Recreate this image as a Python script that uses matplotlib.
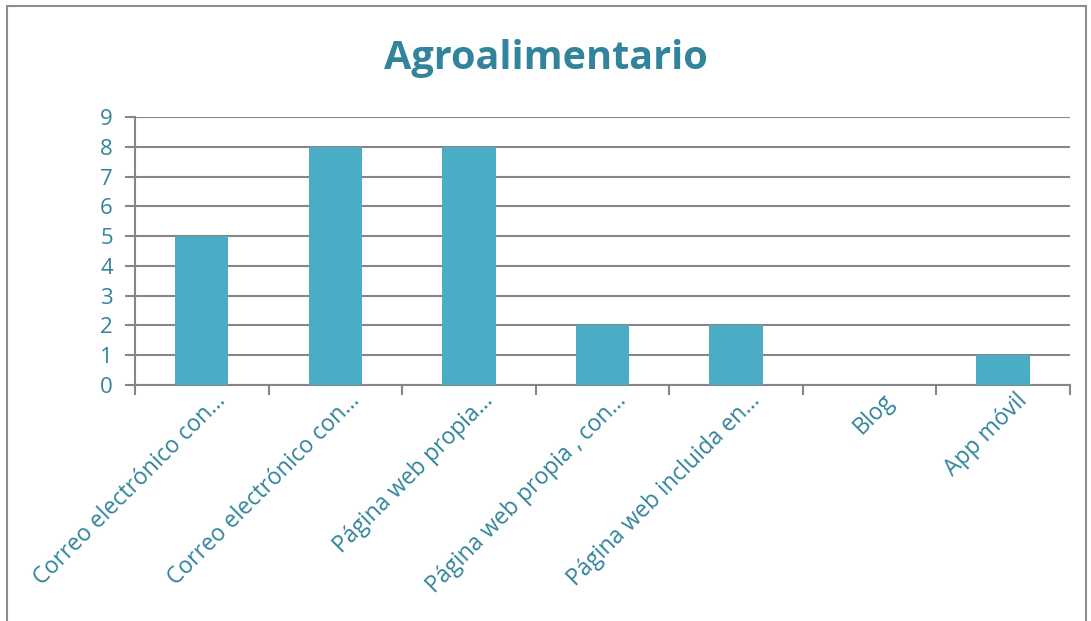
import matplotlib as mpl
mpl.use('Agg')
import matplotlib.pyplot as plt
from matplotlib.patches import Rectangle
from matplotlib.transforms import ScaledTranslation

categories = ["Correo electrónico con…", "Correo electrónico con…", "Página web propia…",
              "Página web propia , con…", "Página web incluida en…", "Blog", "App móvil"]
values = [5, 8, 8, 2, 2, 0, 1]
yticks = list(range(0, 10))

text_col = '#31849B'
bar_col = '#4BACC6'
grid_col = '#868686'

plt.rcParams['font.family'] = ['Open Sans', 'DejaVu Sans']

W, H = 1091, 621
fig = plt.figure(figsize=(W / 100, H / 100), dpi=100)
ax = fig.add_axes([135 / W, 1 - 385 / H, (1070 - 135) / W, (385 - 117) / H])

x = list(range(len(categories)))
ax.bar(x, values, width=0.4, color=bar_col, zorder=3)

ax.set_xlim(-0.5, len(categories) - 0.5)
ax.set_ylim(0, 9)
ax.set_yticks(yticks)
ax.set_yticklabels([str(v) for v in yticks])
ax.yaxis.grid(True, color=grid_col, linewidth=1.5, zorder=0)
for s in ['top', 'right']:
    ax.spines[s].set_visible(False)
for s in ['left', 'bottom']:
    ax.spines[s].set_color(grid_col)
    ax.spines[s].set_linewidth(1.5)

ax.tick_params(axis='y', colors=grid_col, labelcolor=text_col, labelsize=16, length=7, width=1.5, pad=9)
# category boundary ticks on x
ax.set_xticks([i - 0.5 for i in range(len(categories) + 1)])
ax.set_xticklabels([])
ax.tick_params(axis='x', colors=grid_col, length=7, width=1.5)
ax.set_xticks(x, minor=True)
ax.set_xticklabels(categories, minor=True, rotation=45, ha='right', va='top',
                   rotation_mode='anchor', color=text_col, fontsize=16.5)
ax.tick_params(axis='x', which='minor', length=0, pad=3)
shift = ScaledTranslation(0.12, 0, fig.dpi_scale_trans)
for lab in ax.get_xticklabels(minor=True):
    lab.set_transform(lab.get_transform() + shift)

fig.text(0.5, 1 - 58 / H, "Agroalimentario", ha='center', va='center',
         fontsize=28.5, fontweight='bold', color=text_col)

fig.patches.append(Rectangle((7 / W, -0.05), (1086 - 7) / W, 1.05 - 6 / H,
                             transform=fig.transFigure, fill=False,
                             edgecolor='#8c8c8c', linewidth=1.5))

plt.savefig("out.png", dpi=100)
